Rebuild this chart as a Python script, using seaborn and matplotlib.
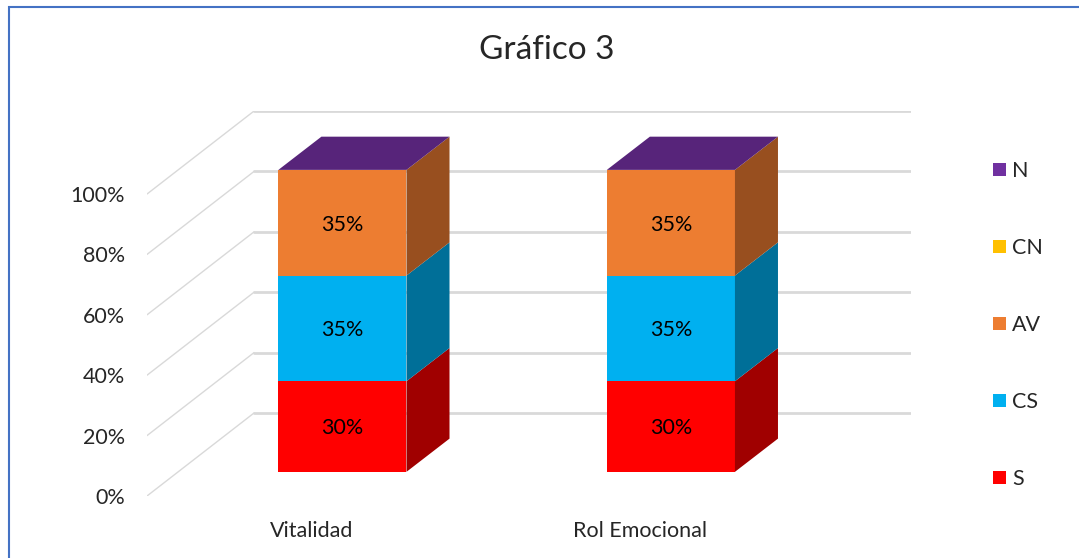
import numpy as np
import pandas as pd
import matplotlib
matplotlib.use("Agg")
import matplotlib.pyplot as plt
import seaborn as sns
from matplotlib.patches import Polygon, Rectangle, Patch

# Data
categories = ["Vitalidad", "Rol Emocional"]
series = ["S", "CS", "AV", "CN", "N"]
s_vals = [30, 30]
cs_vals = [35, 35]
av_vals = [35, 35]
cn_vals = [0, 0]
n_vals = [0, 0]
yticks = [0, 20, 40, 60, 80, 100]
ytick_labels = ["0%", "20%", "40%", "60%", "80%", "100%"]

front_colors = {"S": "#FF0000", "CS": "#00B0F0", "AV": "#ED7D31", "CN": "#FFC000", "N": "#7030A0"}
side_colors = {"S": "#A00000", "CS": "#006F98", "AV": "#984F1F", "CN": "#B08600", "N": "#4E2270"}
top_color = "#57247A"
grid_color = "#D9D9D9"

# 3D look: floor depth and bar placement (data units)
DX, DY = 0.326, 27.5      # full depth of the floor
OFF_X, OFF_Y = 0.095, 8.0  # bar front face offset into depth
BDX, BDY = 0.131, 11.0     # bar depth
BAR_W = 0.39
FS = 15.5


def main():
    sns.set_theme(style="white")
    plt.rcParams["font.family"] = ["Lato", "DejaVu Sans"]

    vals = {"S": s_vals, "CS": cs_vals, "AV": av_vals, "CN": cn_vals, "N": n_vals}
    cum = np.cumsum([vals[s] for s in series], axis=0)
    rows = []
    for i, s in enumerate(series):
        for j, c in enumerate(categories):
            rows.append({"cat": c, "serie": s, "cum": cum[i, j]})
    df = pd.DataFrame(rows)

    W, H = 1079, 558
    fig = plt.figure(figsize=(W / 100, H / 100), dpi=100)
    ax = fig.add_axes([147 / W, 1 - 496 / H, (911 - 147) / W, (496 - 111) / H])

    # draw from top of stack down so lower segments overlap
    order = series[::-1]
    sns.barplot(data=df, x="cat", y="cum", hue="serie", hue_order=order,
                palette=front_colors, dodge=False, width=BAR_W, legend=False,
                saturation=1, ax=ax, zorder=3)
    for p in ax.patches:
        p.set_x(p.get_x() + OFF_X)
        p.set_y(p.get_y() + OFF_Y)
        p.set_edgecolor("none")

    # side and top faces
    bottoms = np.vstack([np.zeros(len(categories)), cum[:-1]])
    for j in range(len(categories)):
        x1 = j + BAR_W / 2 + OFF_X
        x0 = j - BAR_W / 2 + OFF_X
        for i, s in enumerate(series):
            h = vals[s][j]
            if h <= 0:
                continue
            y0 = bottoms[i, j] + OFF_Y
            y1 = y0 + h
            ax.add_patch(Polygon([(x1, y0), (x1 + BDX, y0 + BDY), (x1 + BDX, y1 + BDY), (x1, y1)],
                                 closed=True, facecolor=side_colors[s], edgecolor="none", zorder=3))
            ax.text(j + OFF_X, (y0 + y1) / 2 - 0.6, f"{h}%", ha="center", va="center",
                    fontsize=FS, color="black", zorder=4)
        ytop = cum[-1, j] + OFF_Y
        ax.add_patch(Polygon([(x0, ytop), (x0 + BDX, ytop + BDY), (x1 + BDX, ytop + BDY), (x1, ytop)],
                             closed=True, facecolor=top_color, edgecolor="none", zorder=3))

    # floor / wall gridlines
    n = len(categories)
    for v in yticks:
        ax.plot([-0.5, -0.5 + DX], [v, v + DY], color=grid_color, lw=1.0, zorder=1)
        ax.plot([-0.5 + DX, n - 0.5 + DX], [v + DY, v + DY], color=grid_color, lw=2.0, zorder=1)

    ax.set_xlim(-0.5, n - 0.5 + DX)
    ax.set_ylim(0, 100 + DY)
    ax.set_yticks(yticks)
    ax.set_yticklabels(ytick_labels, fontsize=FS)
    ax.set_xticks(range(n))
    ax.set_xticklabels(categories, fontsize=FS)
    ax.tick_params(axis="y", length=0, pad=16)
    ax.tick_params(axis="x", length=0, pad=18)
    ax.set_xlabel("")
    ax.set_ylabel("")
    ax.grid(False)
    for sp in ax.spines.values():
        sp.set_visible(False)
    ax.patch.set_alpha(0)

    # legend
    handles = [Patch(facecolor=front_colors[s], edgecolor="none") for s in order]
    fig.legend(handles, order, loc="upper left", bbox_to_anchor=(993 / W, 1 - 161 / H),
               frameon=False, fontsize=FS, handlelength=0.6, handleheight=0.6,
               handletextpad=0.3, labelspacing=2.65, borderpad=0, borderaxespad=0)

    fig.text(547 / W, 1 - 50 / H, "Gráfico 3", ha="center", va="center", fontsize=24)

    # chart border
    fig.patches.append(Rectangle((9 / W, -0.1), 1.2, 1.1 - 7 / H, transform=fig.transFigure,
                                 facecolor="none", edgecolor="#4472C4", lw=1.5, figure=fig))

    fig.savefig("out.png", dpi=100)


if __name__ == "__main__":
    main()
